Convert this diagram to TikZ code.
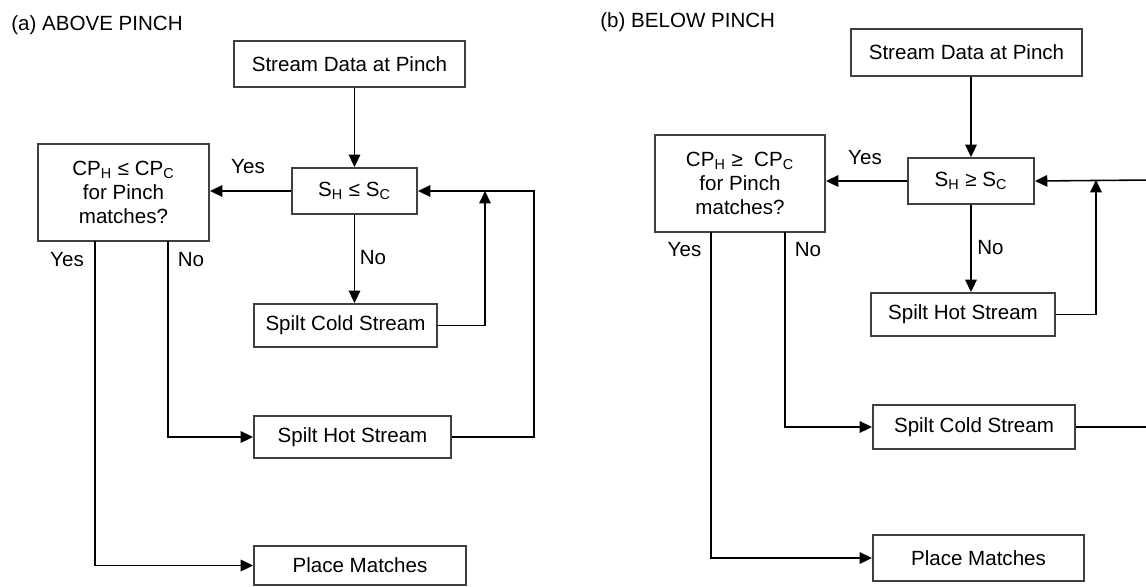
\documentclass[tikz,border=0pt]{standalone}
\usepackage{fontspec}
\setmainfont{Liberation Sans}
\usetikzlibrary{arrows.meta}

\newcommand{\fsz}{\fontsize{11.7}{13.6}\selectfont}

\begin{document}
\begin{tikzpicture}[x=0.02cm, y=-0.02cm,
  box/.style={draw=black!75, line width=1.1pt, align=center, inner sep=0pt, font=\fsz},
  arr/.style={-{Triangle[length=7pt,width=6.5pt]}, line width=0.9pt},
  lbl/.style={font=\fsz, inner sep=0pt}]
  \useasboundingbox (0,0) rectangle (1146,586);
  % --- (a) au-dessus du pincement ---
  \node[lbl, anchor=west] (titleA) at (11,25) {(a) ABOVE PINCH};
  \node[box, minimum width=231*0.02cm, minimum height=46*0.02cm] (sdA) at (349.5,64) {Stream Data at Pinch};
  \node[box, minimum width=125*0.02cm, minimum height=46*0.02cm] (sA) at (354.5,191) {S\textsubscript{H} ≤ S\textsubscript{C}};
  \node[box, minimum width=171*0.02cm, minimum height=97*0.02cm] (cpA) at (123.5,192.5) {CP\textsubscript{H} ≤ CP\textsubscript{C}\\for Pinch\\matches?};
  \node[box, minimum width=183*0.02cm, minimum height=43*0.02cm] (coldA) at (345.5,325.5) {Spilt Cold Stream};
  \node[box, minimum width=197*0.02cm, minimum height=42*0.02cm] (hotA) at (352.5,437) {Spilt Hot Stream};
  \node[box, minimum width=212*0.02cm, minimum height=39*0.02cm] (placeA) at (360,565.5) {Place Matches};
  % Libellés
  \node[lbl] (yes1A) at (248,167) {Yes};
  \node[lbl] (no1A) at (373,258) {No};
  \node[lbl] (yes2A) at (67,260) {Yes};
  \node[lbl] (no2A) at (191,260) {No};
  % Points de raccord
  \coordinate (yesA) at (95,241);
  \coordinate (noA) at (168,241);
  \coordinate (jA) at (485,191);
  \coordinate (rA) at (534,191);
  % Connexions
  \draw[arr] (sdA.south -| sA.north) -- (sA.north);
  \draw[arr] (sA.west) -- (sA.west -| cpA.east);
  \draw[arr] (sA.south) -- (sA.south |- coldA.north);
  \draw[arr] (coldA.east) -| (jA);
  \draw[arr] (hotA.east) -| (rA) -- (sA.east);
  \draw[arr] (noA) |- (hotA.west);
  \draw[arr] (yesA) |- (placeA.west);
  % --- (b) sous le pincement ---
  \node[lbl, anchor=west] (titleB) at (600,22) {(b) BELOW PINCH};
  \node[box, minimum width=231*0.02cm, minimum height=47*0.02cm] (sdB) at (966.5,52.5) {Stream Data at Pinch};
  \node[box, minimum width=126*0.02cm, minimum height=46*0.02cm] (sB) at (971,181) {S\textsubscript{H} ≥ S\textsubscript{C}};
  \node[box, minimum width=170*0.02cm, minimum height=97*0.02cm] (cpB) at (740,183.5) {CP\textsubscript{H} ≥\ \ CP\textsubscript{C}\\for Pinch\\matches?};
  \node[box, minimum width=184*0.02cm, minimum height=43*0.02cm] (hotB) at (963,314.5) {Spilt Hot Stream};
  \node[box, minimum width=202*0.02cm, minimum height=44*0.02cm] (coldB) at (974,427) {Spilt Cold Stream};
  \node[box, minimum width=211*0.02cm, minimum height=46*0.02cm] (placeB) at (978.5,558) {Place Matches};
  % Libellés
  \node[lbl] (yes1B) at (865,158) {Yes};
  \node[lbl] (no1B) at (990.5,248) {No};
  \node[lbl] (yes2B) at (684.5,250) {Yes};
  \node[lbl] (no2B) at (808,250) {No};
  % Points de raccord
  \coordinate (yesB) at (711,232);
  \coordinate (noB) at (785,232);
  \coordinate (jB) at (1096,180);
  \coordinate (rB) at (1152,180);
  % Connexions
  \draw[arr] (sdB.south -| sB.north) -- (sB.north);
  \draw[arr] (sB.west) -- (sB.west -| cpB.east);
  \draw[arr] (sB.south) -- (sB.south |- hotB.north);
  \draw[arr] (hotB.east) -| (jB);
  \draw[arr] (coldB.east) -| (rB) -- (sB.east);
  \draw[arr] (noB) |- (coldB.west);
  \draw[arr] (yesB) |- (placeB.west);
\end{tikzpicture}
\end{document}
